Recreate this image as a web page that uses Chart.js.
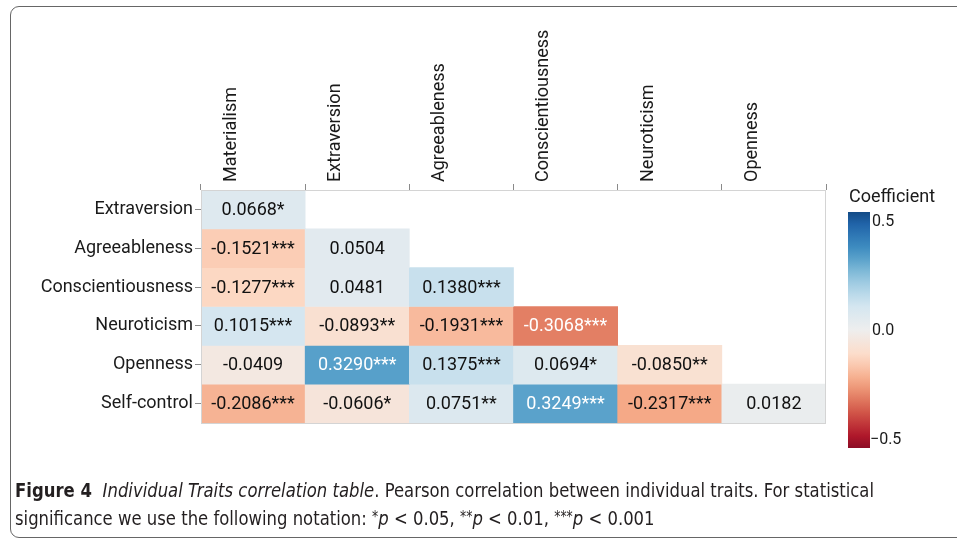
<!DOCTYPE html>
<html>
<head>
<meta charset="utf-8">
<script src="https://cdn.jsdelivr.net/npm/chart.js@4/dist/chart.umd.min.js"></script>
<style>
  html, body { margin: 0; padding: 0; background: #fff; }
  body { width: 957px; height: 539px; position: relative; overflow: hidden; }
  #frame { position: absolute; left: 10px; top: 6px; width: 980px; height: 530px;
           border: 1.4px solid #666; border-radius: 9px; }
  #heat { position: absolute; left: 0; top: 0; }
  #cbTitle { position: absolute; left: 849px; top: 185px; font: 18px Roboto, sans-serif; color: #1a1a1a; }
  #cbBar { position: absolute; left: 848px; top: 212px; width: 22px; height: 236px; }
  .cbTick { position: absolute; left: 872px; font: 16px Roboto, sans-serif; color: #1a1a1a; line-height: 16px; }
  #caption { position: absolute; left: 15px; top: 476px; font: 20px "Liberation Sans Narrow", "DejaVu Sans Condensed", sans-serif;
             line-height: 28px; color: #231f20; white-space: nowrap; transform: scaleX(0.915); transform-origin: left top; }
  #caption b { font-weight: bold; margin-right: 6px; }
  #caption .st { position: relative; top: -3px; font-size: 15px; }
</style>
</head>
<body>
<div id="frame"></div>
<canvas id="heat" width="957" height="539"></canvas>
<div id="cbTitle">Coefficient</div>
<div id="cbBar"></div>
<div id="caption"><b>Figure 4</b> <i>Individual Traits correlation table</i>. Pearson correlation between individual traits. For statistical<br>significance we use the following notation: <span class="st">*</span><i>p</i> &lt; 0.05, <span class="st">**</span><i>p</i> &lt; 0.01, <span class="st">***</span><i>p</i> &lt; 0.001</div>
<script>
// column / row labels
const cols = ['Materialism', 'Extraversion', 'Agreeableness', 'Conscientiousness', 'Neuroticism', 'Openness'];
const rows = ['Extraversion', 'Agreeableness', 'Conscientiousness', 'Neuroticism', 'Openness', 'Self-control'];

// correlation coefficients, one array per row (lower triangle)
const extraversion = [0.0668];
const agreeableness = [-0.1521, 0.0504];
const conscientiousness = [-0.1277, 0.0481, 0.1380];
const neuroticism = [0.1015, -0.0893, -0.1931, -0.3068];
const openness = [-0.0409, 0.3290, 0.1375, 0.0694, -0.0850];
const selfControl = [-0.2086, -0.0606, 0.0751, 0.3249, -0.2317, 0.0182];

// significance stars
const extraversionSig = ['*'];
const agreeablenessSig = ['***', ''];
const conscientiousnessSig = ['***', '', '***'];
const neuroticismSig = ['***', '**', '***', '***'];
const opennessSig = ['', '***', '***', '*', '**'];
const selfControlSig = ['***', '*', '**', '***', '***', ''];

// colour bar ticks
const cbTicks = [0.5, 0.0, -0.5];
const cbTickLabels = ['0.5', '0.0', '\u22120.5'];

const values = [extraversion, agreeableness, conscientiousness, neuroticism, openness, selfControl];
const stars = [extraversionSig, agreeablenessSig, conscientiousnessSig, neuroticismSig, opennessSig, selfControlSig];

// RdBu palette spread over -0.6 .. 0.6
const LIM = 0.6;
const palette = ['#67001f', '#b2182b', '#d6604d', '#f4a582', '#fddbc7', '#eeeeee',
                 '#d1e5f0', '#92c5de', '#4393c3', '#2166ac', '#053061'];

function hexToRgb(h) {
  return [1, 3, 5].map(i => parseInt(h.slice(i, i + 2), 16));
}

function colorFor(v) {
  let t = (v + LIM) / (2 * LIM);
  t = Math.max(0, Math.min(1, t)) * (palette.length - 1);
  const i = Math.min(Math.floor(t), palette.length - 2);
  const f = t - i;
  const a = hexToRgb(palette[i]), b = hexToRgb(palette[i + 1]);
  const c = a.map((x, k) => Math.round(x + (b[k] - x) * f));
  return `rgb(${c[0]},${c[1]},${c[2]})`;
}

const datasets = values.map((rowVals, i) => ({
  label: rows[i],
  data: rowVals.map((v, j) => ({ x: cols[j], y: [i, i + 1], v, s: stars[i][j] })),
  backgroundColor: ctx => ctx.raw ? colorFor(ctx.raw.v) : '#fff',
  borderWidth: 0,
  grouped: false,
  barPercentage: 1,
  categoryPercentage: 1
}));

const cellLabels = {
  id: 'cellLabels',
  afterDatasetsDraw(chart) {
    const { ctx, chartArea } = chart;
    ctx.save();
    ctx.strokeStyle = '#d4d4d4';
    ctx.lineWidth = 1;
    ctx.strokeRect(chartArea.left + 0.5, chartArea.top + 0.5, chartArea.width - 1, chartArea.height);
    ctx.font = '18px Roboto, sans-serif';
    ctx.textAlign = 'center';
    ctx.textBaseline = 'middle';
    chart.data.datasets.forEach((ds, di) => {
      chart.getDatasetMeta(di).data.forEach((el, k) => {
        const d = ds.data[k];
        ctx.fillStyle = Math.abs(d.v) > 0.3 ? '#ffffff' : '#111111';
        ctx.fillText(d.v.toFixed(4) + d.s, el.x, (el.y + el.base) / 2 + 1);
      });
    });
    ctx.restore();
  }
};

new Chart(document.getElementById('heat'), {
  type: 'bar',
  data: { labels: cols, datasets },
  options: {
    responsive: false,
    animation: false,
    layout: { padding: { left: 0, top: 0, right: 131, bottom: 116 } },
    plugins: { legend: { display: false }, tooltip: { enabled: false } },
    scales: {
      x: {
        type: 'category',
        position: 'top',
        grid: { drawOnChartArea: false, tickLength: 6, color: '#8a8a8a' },
        border: { display: false },
        ticks: { minRotation: 90, maxRotation: 90, padding: 2, color: '#1a1a1a',
                 font: { family: 'Roboto', size: 18 } },
        afterFit(scale) { scale.height = 190; }
      },
      y: {
        type: 'linear',
        min: 0,
        max: rows.length,
        reverse: true,
        grid: { drawOnChartArea: false, tickLength: 6, color: '#8a8a8a' },
        border: { display: false },
        afterBuildTicks(scale) { scale.ticks = rows.map((_, i) => ({ value: i + 0.5 })); },
        ticks: { autoSkip: false, padding: 2, color: '#1a1a1a', font: { family: 'Roboto', size: 18 },
                 callback: (v, i) => rows[i] },
        afterFit(scale) { scale.width = 201; }
      }
    }
  },
  plugins: [cellLabels]
});

// colour bar legend
const bar = document.getElementById('cbBar');
const cbTop = 0.54, cbBottom = -0.54;
const stops = [];
for (let k = 0; k <= 20; k++) {
  const v = cbTop - (cbTop - cbBottom) * k / 20;
  stops.push(colorFor(v) + ' ' + (k * 5) + '%');
}
bar.style.background = 'linear-gradient(to bottom, ' + stops.join(', ') + ')';
const barTop = 212, barH = 236;
cbTicks.forEach((v, i) => {
  const el = document.createElement('div');
  el.className = 'cbTick';
  el.textContent = cbTickLabels[i];
  el.style.top = (barTop + (cbTop - v) / (cbTop - cbBottom) * barH - 8) + 'px';
  if (v < 0) el.style.left = '870px';
  document.body.appendChild(el);
});
</script>
</body>
</html>
